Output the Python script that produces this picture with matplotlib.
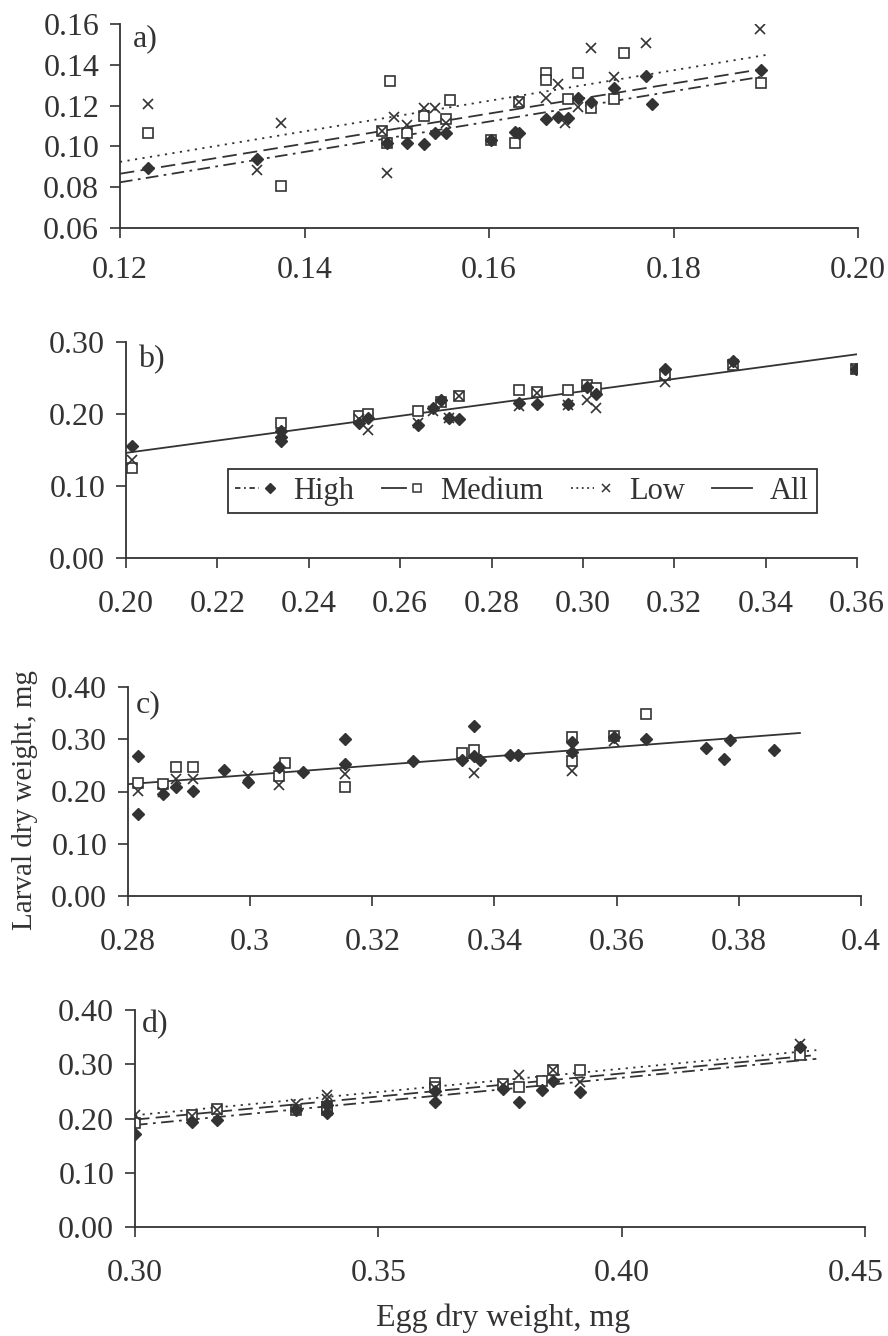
import matplotlib.pyplot as plt
import numpy as np
from matplotlib.legend_handler import HandlerLine2D
from matplotlib.lines import Line2D
from matplotlib.transforms import ScaledTranslation

# ---- panel a ----
a_high_x = [0.123, 0.1348, 0.1489, 0.1511, 0.1529, 0.1542, 0.1553, 0.1602, 0.1628, 0.1633,
            0.1662, 0.1675, 0.1686, 0.1696, 0.1711, 0.1735, 0.1770, 0.1777, 0.1895]
a_high_y = [0.0893, 0.0937, 0.1015, 0.1018, 0.1012, 0.1064, 0.1064, 0.1031, 0.1072, 0.1064,
            0.1133, 0.1146, 0.1138, 0.1236, 0.1219, 0.1285, 0.1347, 0.1206, 0.1375]
a_med_x = [0.123, 0.1374, 0.1484, 0.1489, 0.1493, 0.1511, 0.1529, 0.1553, 0.1558, 0.1602,
           0.1628, 0.1632, 0.1662, 0.1662, 0.1686, 0.1696, 0.1711, 0.1735, 0.1746, 0.1895]
a_med_y = [0.1064, 0.0807, 0.1075, 0.1015, 0.1322, 0.1064, 0.1149, 0.1134, 0.1227, 0.1031,
           0.1015, 0.1219, 0.1361, 0.1325, 0.1231, 0.1358, 0.1187, 0.1231, 0.1456, 0.1309]
a_low_x = [0.123, 0.1348, 0.1374, 0.1484, 0.1489, 0.1497, 0.1511, 0.1529, 0.1542, 0.1553,
           0.1632, 0.1662, 0.1675, 0.1682, 0.1696, 0.1711, 0.1735, 0.1770, 0.1894]
a_low_y = [0.1206, 0.0884, 0.1113, 0.1075, 0.0871, 0.1143, 0.1105, 0.1190, 0.1190, 0.1113,
           0.1219, 0.1236, 0.1306, 0.1113, 0.1195, 0.1481, 0.1342, 0.1505, 0.1574]
a_fit_x = [0.12, 0.19]
a_fit_high = [0.0824, 0.1345]
a_fit_med = [0.0866, 0.1382]
a_fit_low = [0.0924, 0.1448]

# ---- panel b ----
b_high_x = [0.2013, 0.2339, 0.2339, 0.2339, 0.2510, 0.2530, 0.2639, 0.2671, 0.2690, 0.2708,
            0.2728, 0.2861, 0.2899, 0.2968, 0.3008, 0.3029, 0.3179, 0.3329, 0.3597]
b_high_y = [0.155, 0.176, 0.168, 0.162, 0.187, 0.194, 0.185, 0.208, 0.219, 0.195,
            0.193, 0.215, 0.214, 0.214, 0.237, 0.228, 0.263, 0.273, 0.262]
b_med_x = [0.2013, 0.2339, 0.2510, 0.2530, 0.2639, 0.2690, 0.2728, 0.2861, 0.2899, 0.2968,
           0.3008, 0.3029, 0.3179, 0.3329, 0.3597]
b_med_y = [0.125, 0.188, 0.197, 0.200, 0.204, 0.217, 0.225, 0.233, 0.230, 0.233,
           0.240, 0.236, 0.254, 0.268, 0.262]
b_low_x = [0.2013, 0.2339, 0.2510, 0.2530, 0.2639, 0.2671, 0.2708, 0.2728, 0.2861, 0.2899,
           0.2968, 0.3008, 0.3029, 0.3179, 0.3329, 0.3597]
b_low_y = [0.136, 0.172, 0.193, 0.178, 0.188, 0.204, 0.195, 0.225, 0.211, 0.229,
           0.213, 0.220, 0.208, 0.245, 0.270, 0.262]
b_fit_x = [0.20, 0.36]
b_fit_all = [0.146, 0.283]

# ---- panel c ----
c_high_x = [0.2816, 0.2816, 0.2857, 0.2878, 0.2907, 0.2957, 0.2996, 0.3048, 0.3087, 0.3156,
            0.3156, 0.3267, 0.3347, 0.3366, 0.3366, 0.3377, 0.3426, 0.3438, 0.3527, 0.3527,
            0.3596, 0.3648, 0.3747, 0.3776, 0.3786, 0.3857]
c_high_y = [0.268, 0.157, 0.196, 0.209, 0.201, 0.241, 0.219, 0.246, 0.238, 0.300,
            0.253, 0.259, 0.260, 0.325, 0.268, 0.260, 0.270, 0.270, 0.295, 0.275,
            0.304, 0.300, 0.283, 0.263, 0.298, 0.280]
c_med_x = [0.2816, 0.2857, 0.2878, 0.2907, 0.3048, 0.3057, 0.3156, 0.3347, 0.3366, 0.3527,
           0.3527, 0.3596, 0.3648]
c_med_y = [0.217, 0.215, 0.247, 0.247, 0.230, 0.255, 0.209, 0.273, 0.279, 0.305,
           0.258, 0.306, 0.348]
c_low_x = [0.2816, 0.2857, 0.2878, 0.2907, 0.2996, 0.3048, 0.3156, 0.3366, 0.3527, 0.3596]
c_low_y = [0.201, 0.200, 0.224, 0.224, 0.230, 0.212, 0.234, 0.236, 0.240, 0.296]
c_fit_x = [0.28, 0.39]
c_fit_all = [0.214, 0.312]

# ---- panel d ----
d_high_x = [0.300, 0.3118, 0.3168, 0.333, 0.3394, 0.3394, 0.3616, 0.3616, 0.3757, 0.3789,
            0.3836, 0.3858, 0.3915, 0.4366]
d_high_y = [0.172, 0.193, 0.197, 0.215, 0.225, 0.210, 0.231, 0.250, 0.255, 0.231,
            0.252, 0.270, 0.249, 0.332]
d_med_x = [0.300, 0.3118, 0.3168, 0.333, 0.3394, 0.3394, 0.3616, 0.3616, 0.3757, 0.3789,
           0.3836, 0.3858, 0.3915, 0.4366]
d_med_y = [0.191, 0.207, 0.217, 0.215, 0.215, 0.222, 0.265, 0.258, 0.263, 0.258,
           0.270, 0.289, 0.289, 0.317]
d_low_x = [0.300, 0.3118, 0.3168, 0.333, 0.3394, 0.3394, 0.3616, 0.3757, 0.3789, 0.3858,
           0.3915, 0.4366]
d_low_y = [0.206, 0.205, 0.216, 0.226, 0.243, 0.236, 0.256, 0.262, 0.280, 0.290,
           0.267, 0.338]
d_fit_x = [0.30, 0.44]
d_fit_high = [0.188, 0.310]
d_fit_med = [0.198, 0.317]
d_fit_low = [0.206, 0.326]

# ticks
a_xticks = [0.12, 0.14, 0.16, 0.18, 0.20]
a_xlabels = ["0.12", "0.14", "0.16", "0.18", "0.20"]
a_yticks = [0.06, 0.08, 0.10, 0.12, 0.14, 0.16]
a_ylabels = ["0.06", "0.08", "0.10", "0.12", "0.14", "0.16"]
b_xticks = [0.20, 0.22, 0.24, 0.26, 0.28, 0.30, 0.32, 0.34, 0.36]
b_xlabels = ["0.20", "0.22", "0.24", "0.26", "0.28", "0.30", "0.32", "0.34", "0.36"]
b_yticks = [0.0, 0.1, 0.2, 0.3]
b_ylabels = ["0.00", "0.10", "0.20", "0.30"]
c_xticks = [0.28, 0.30, 0.32, 0.34, 0.36, 0.38, 0.40]
c_xlabels = ["0.28", "0.3", "0.32", "0.34", "0.36", "0.38", "0.4"]
cd_yticks = [0.0, 0.1, 0.2, 0.3, 0.4]
cd_ylabels = ["0.00", "0.10", "0.20", "0.30", "0.40"]
d_xticks = [0.30, 0.35, 0.40, 0.45]
d_xlabels = ["0.30", "0.35", "0.40", "0.45"]

plt.rcParams['font.family'] = ['Liberation Serif', 'DejaVu Serif']
INK = '#333333'
W, H = 888, 1336
FS = 23

fig = plt.figure(figsize=(W / 100, H / 100), dpi=100)


def add_panel(l, r, t, b):
    return fig.add_axes([l / W, 1 - b / H, (r - l) / W, (b - t) / H])


high_kw = dict(ls='None', marker='D', ms=5.8, color=INK, mec=INK)
med_kw = dict(ls='None', marker='s', ms=7, mfc='white', mec=INK, mew=1.2)
low_kw = dict(ls='None', marker='x', ms=7.5, mec=INK, mew=1.2)
ls_high = (0, (7, 3, 1.5, 3))
ls_med = (0, (8, 3.5))
ls_low = (0, (1.2, 3))


def style(ax, xticks, xlabels, yticks, ylabels, xlim, ylim, xpad, letter, lx, ly):
    for s in ['top', 'right']:
        ax.spines[s].set_visible(False)
    for s in ['left', 'bottom']:
        ax.spines[s].set_color(INK)
        ax.spines[s].set_linewidth(1.3)
    ax.set_xlim(xlim)
    ax.set_ylim(ylim)
    ax.set_xticks(xticks, xlabels)
    ax.set_yticks(yticks, ylabels)
    ax.tick_params(axis='both', direction='out', length=7, width=1.2, color=INK,
                   labelsize=FS, labelcolor=INK)
    ax.tick_params(axis='x', pad=xpad)
    ax.tick_params(axis='y', pad=8)
    ax.patch.set_alpha(0)
    ax.text(lx, ly, letter, transform=ax.transAxes, fontsize=FS, color=INK,
            ha='left', va='center')


# panel a
ax = add_panel(120, 858, 24, 228)
ax.plot(a_fit_x, a_fit_high, ls=ls_high, color=INK, lw=1.3)
ax.plot(a_fit_x, a_fit_med, ls=ls_med, color=INK, lw=1.3)
ax.plot(a_fit_x, a_fit_low, ls=ls_low, color=INK, lw=1.3)
ax.plot(a_med_x, a_med_y, **med_kw)
ax.plot(a_low_x, a_low_y, **low_kw)
ax.plot(a_high_x, a_high_y, **high_kw)
style(ax, a_xticks, a_xlabels, a_yticks, a_ylabels, (0.12, 0.20), (0.06, 0.16), 13,
      "a)", 0.018, 0.93)

# panel b
ax = add_panel(126, 857, 342, 558)
ax.plot(b_fit_x, b_fit_all, ls='-', color=INK, lw=1.3)
ax.plot(b_med_x, b_med_y, **med_kw)
ax.plot(b_low_x, b_low_y, **low_kw)
ax.plot(b_high_x, b_high_y, **high_kw)
style(ax, b_xticks, b_xlabels, b_yticks, b_ylabels, (0.20, 0.36), (0.0, 0.30), 16,
      "b)", 0.016, 0.917)


class EndMarkerHandler(HandlerLine2D):
    def create_artists(self, legend, orig_handle, xdescent, ydescent,
                       width, height, fontsize, trans):
        y = (height - ydescent) / 2
        seg = Line2D([-xdescent, -xdescent + width * 0.6], [y, y])
        self.update_prop(seg, orig_handle, legend)
        seg.set_marker('None')
        mark = Line2D([-xdescent + width * 0.88], [y])
        self.update_prop(mark, orig_handle, legend)
        mark.set_linestyle('None')
        seg.set_transform(trans)
        mark.set_transform(trans)
        return [seg, mark]


h_high = Line2D([], [], color=INK, lw=1.3, ls=(0, (3, 2, 1, 2)), marker='D', ms=5, mec=INK)
h_med = Line2D([], [], color=INK, lw=1.3, ls='-', marker='s', ms=6, mfc='white', mec=INK, mew=1.1)
h_low = Line2D([], [], color=INK, lw=1.3, ls=(0, (1, 2)), marker='x', ms=6, mec=INK, mew=1.1)
h_all = Line2D([], [], color=INK, lw=1.3, ls='-')
leg = ax.legend([h_high, h_med, h_low, h_all], ["High", "Medium", "Low", "All"],
                handler_map={h_high: EndMarkerHandler(), h_med: EndMarkerHandler(),
                             h_low: EndMarkerHandler()},
                loc='center', bbox_to_anchor=(0.542, 0.31), ncol=4, fontsize=22,
                frameon=True, fancybox=False, framealpha=1, edgecolor=INK,
                handlelength=1.3, handletextpad=0.6, columnspacing=0.9,
                borderpad=0.25, borderaxespad=0)
leg.get_frame().set_linewidth(1.3)
for t in leg.get_texts():
    t.set_color(INK)

# panel c
ax = add_panel(128, 861, 687, 896)
ax.plot(c_fit_x, c_fit_all, ls='-', color=INK, lw=1.3)
ax.plot(c_med_x, c_med_y, **med_kw)
ax.plot(c_low_x, c_low_y, **low_kw)
ax.plot(c_high_x, c_high_y, **high_kw)
style(ax, c_xticks, c_xlabels, cd_yticks, cd_ylabels, (0.28, 0.40), (0.0, 0.40), 16,
      "c)", 0.01, 0.914)

# panel d
ax = add_panel(135, 865, 1010, 1227)
ax.plot(d_fit_x, d_fit_high, ls=ls_high, color=INK, lw=1.3)
ax.plot(d_fit_x, d_fit_med, ls=ls_med, color=INK, lw=1.3)
ax.plot(d_fit_x, d_fit_low, ls=ls_low, color=INK, lw=1.3)
ax.plot(d_med_x, d_med_y, **med_kw)
ax.plot(d_low_x, d_low_y, **low_kw)
ax.plot(d_high_x, d_high_y, **high_kw)
style(ax, d_xticks, d_xlabels, cd_yticks, cd_ylabels, (0.30, 0.45), (0.0, 0.40), 16,
      "d)", 0.01, 0.935)
# the last label sits at the page edge; nudge it in a little
last = ax.get_xticklabels()[-1]
last.set_transform(last.get_transform() + ScaledTranslation(-9 / 100, 0, fig.dpi_scale_trans))

fig.text(25 / W, 1 - 800 / H, "Larval dry weight, mg", rotation=90, fontsize=21,
         color=INK, ha='center', va='center')
fig.text(503 / W, 1 - 1318 / H, "Egg dry weight, mg", fontsize=FS,
         color=INK, ha='center', va='center')

fig.savefig("out.png", dpi=100, facecolor='white')
